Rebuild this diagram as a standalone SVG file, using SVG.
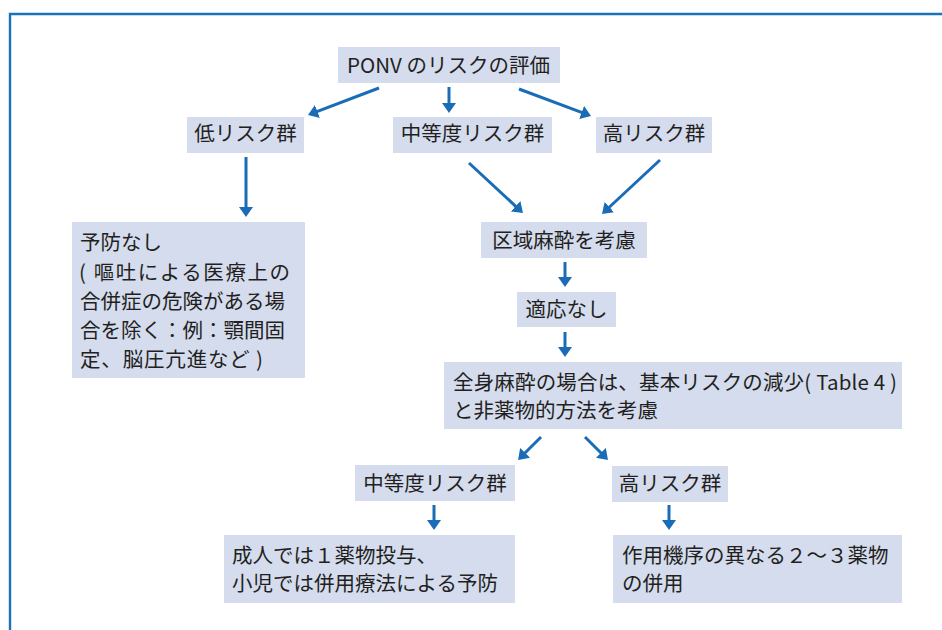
<svg xmlns="http://www.w3.org/2000/svg" width="942" height="630" viewBox="0 0 942 630">
<style>
.box{fill:#d4dcee;}
.t{font-family:"Noto Sans CJK JP","Noto Sans",sans-serif;font-size:20.5px;fill:#231f20;}
.c{text-anchor:middle;}
.arr{stroke:#1a6cb6;stroke-width:3;fill:none;marker-end:url(#ah);}
</style>
<defs>
<marker id="ah" markerUnits="userSpaceOnUse" viewBox="0 0 10 14" markerWidth="10" markerHeight="14" refX="2" refY="7" orient="auto">
<path d="M0,0 L10,7 L0,14 Z" fill="#1a6cb6"/>
</marker>
</defs>
<rect width="942" height="630" fill="#ffffff"/>
<path d="M10,630 V14 H942" fill="none" stroke="#1a72bd" stroke-width="2.4"/>

<g id="ponv"><rect class="box" x="338" y="47" width="222" height="36"/><text class="t" x="347" y="73" textLength="203" lengthAdjust="spacing">PONV のリスクの評価</text></g>
<g id="low"><rect class="box" x="187" y="117" width="117" height="36"/><text class="t c" x="245.5" y="141">低リスク群</text></g>
<g id="mid"><rect class="box" x="393" y="117" width="159" height="36"/><text class="t c" x="472.5" y="141">中等度リスク群</text></g>
<g id="high"><rect class="box" x="596" y="117" width="116" height="36"/><text class="t c" x="654" y="141">高リスク群</text></g>
<g id="noprev"><rect class="box" x="72" y="222" width="233" height="156"/>
<text class="t" x="80" y="250">予防なし</text>
<text class="t" x="79" y="280" textLength="211" lengthAdjust="spacing">( 嘔吐による医療上の</text>
<text class="t" x="80" y="309">合併症の危険がある場</text>
<text class="t" x="80" y="338">合を除く：例：顎間固</text>
<text class="t" x="80" y="367" textLength="183" lengthAdjust="spacing">定、脳圧亢進など )</text>
</g>
<g id="regional"><rect class="box" x="481" y="222" width="166" height="36"/><text class="t c" x="564" y="248">区域麻酔を考慮</text></g>
<g id="noind"><rect class="box" x="517" y="292" width="99" height="35"/><text class="t c" x="566.5" y="317">適応なし</text></g>
<g id="general"><rect class="box" x="444" y="362" width="458" height="67"/>
<text class="t" x="453" y="390" textLength="444" lengthAdjust="spacing">全身麻酔の場合は、基本リスクの減少( Table 4 )</text>
<text class="t" x="453" y="418">と非薬物的方法を考慮</text>
</g>
<g id="mid2"><rect class="box" x="355" y="465" width="160" height="36"/><text class="t c" x="435" y="491">中等度リスク群</text></g>
<g id="high2"><rect class="box" x="612" y="466" width="116" height="36"/><text class="t c" x="670" y="491">高リスク群</text></g>
<g id="single"><rect class="box" x="224" y="535" width="291" height="68"/>
<text class="t" x="232" y="563">成人では１薬物投与、</text>
<text class="t" x="232" y="591">小児では併用療法による予防</text>
</g>
<g id="combo"><rect class="box" x="613" y="535" width="289" height="68"/>
<text class="t" x="622" y="563">作用機序の異なる２～３薬物</text>
<text class="t" x="622" y="591">の併用</text>
</g>

<g id="connectors">
<line class="arr" x1="379" y1="88" x2="315.5" y2="112.2"/>
<line class="arr" x1="449" y1="87" x2="449" y2="105"/>
<line class="arr" x1="519" y1="89" x2="583.5" y2="113.2"/>
<line class="arr" x1="246" y1="157" x2="246" y2="209"/>
<line class="arr" x1="469" y1="163" x2="517.1" y2="207.6"/>
<line class="arr" x1="660" y1="160" x2="607.9" y2="208.5"/>
<line class="arr" x1="565" y1="262" x2="565" y2="279"/>
<line class="arr" x1="565" y1="332" x2="565" y2="349"/>
<line class="arr" x1="541" y1="437" x2="523.7" y2="454.3"/>
<line class="arr" x1="585" y1="437" x2="602.3" y2="454.3"/>
<line class="arr" x1="434" y1="505" x2="434" y2="522"/>
<line class="arr" x1="669" y1="505" x2="669" y2="522"/>
</g>
</svg>
